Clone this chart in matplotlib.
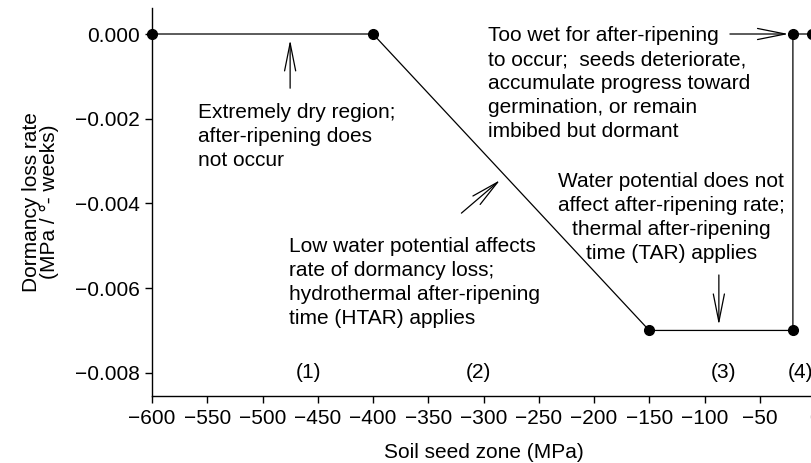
import matplotlib
matplotlib.use("Agg")
import matplotlib.pyplot as plt
from matplotlib.ticker import FuncFormatter, MultipleLocator

# data
potential = [-600, -400, -150, -20, -20, -3]
rate = [0.0, 0.0, -0.007, -0.007, 0.0, 0.0]

zoneLabels = ["(1)", "(2)", "(3)", "(4)"]
zoneX = [-458, -305, -83, -13]
zoneY = -0.008

plt.rcParams['font.family'] = ['Liberation Sans', 'DejaVu Sans']
fs = 15

fig = plt.figure(figsize=(8.12, 4.63), dpi=100)
ax = fig.add_axes([152/812, 1-396/463, (815-152)/812, (396-8)/463])

ax.plot(potential, rate, color='black', lw=0.9, marker='o', markersize=7, clip_on=False, zorder=3)

ax.set_xlim(-600, 0)
ax.set_ylim(-0.008548, 0.000614)
ax.xaxis.set_major_locator(MultipleLocator(50))
ax.yaxis.set_major_locator(MultipleLocator(0.002))
ax.xaxis.set_major_formatter(FuncFormatter(lambda v, p: ('%d' % round(v)).replace('-', '\u2212')))
ax.yaxis.set_major_formatter(FuncFormatter(lambda v, p: ('%.3f' % v).replace('-', '\u2212') if abs(v) > 1e-9 else '0.000'))

ax.spines['top'].set_visible(False)
ax.spines['right'].set_visible(False)
ax.spines['left'].set_linewidth(1.0)
ax.spines['bottom'].set_linewidth(1.0)
ax.tick_params(direction='out', length=5, width=1.0, labelsize=fs, pad=4)

ax.set_xlabel("Soil seed zone (MPa)", fontsize=fs, labelpad=11)
ax.set_ylabel("Dormancy loss rate\n(MPa / \u00b0- weeks)", fontsize=fs, labelpad=11, linespacing=0.95)

for lab, x in zip(zoneLabels, zoneX):
    ax.text(x, zoneY, lab, fontsize=fs, ha='center', va='center')

ls = 1.33
ax.text(-558, -0.00162, "Extremely dry region;\nafter-ripening does\nnot occur",
        fontsize=fs, ha='left', va='top', linespacing=ls)
ax.text(-476, -0.0048, "Low water potential affects\nrate of dormancy loss;\nhydrothermal after-ripening\ntime (HTAR) applies",
        fontsize=fs, ha='left', va='top', linespacing=ls)
ax.text(-296, 0.00018, "Too wet for after-ripening\nto occur;  seeds deteriorate,\naccumulate progress toward\ngermination, or remain\nimbibed but dormant",
        fontsize=fs, ha='left', va='top', linespacing=ls)
ax.text(-130, -0.00327, "Water potential does not\naffect after-ripening rate;\nthermal after-ripening\ntime (TAR) applies",
        fontsize=fs, ha='center', va='top', linespacing=ls, multialignment='center')

arrow = dict(arrowstyle='->,head_length=2.0,head_width=0.4', lw=0.9, color='black', shrinkA=0, shrinkB=0)
ax.annotate("", xy=(-475, -0.00014), xytext=(-475, -0.00128), arrowprops=arrow)
ax.annotate("", xy=(-285, -0.00345), xytext=(-320, -0.00423), arrowprops=arrow)
ax.annotate("", xy=(-87, -0.00687), xytext=(-87, -0.00569), arrowprops=arrow)
ax.annotate("", xy=(-24, 0.0), xytext=(-77, 0.0), arrowprops=arrow)

plt.savefig("out.png", dpi=100)
